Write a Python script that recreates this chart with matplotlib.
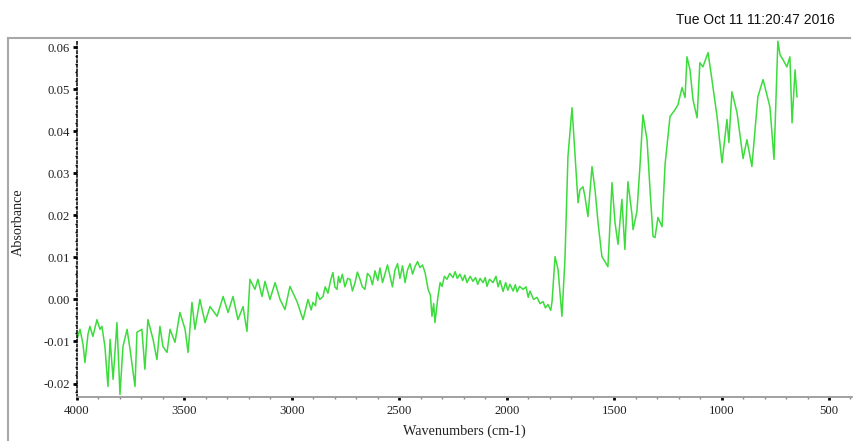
import matplotlib
matplotlib.use("Agg")
import matplotlib.pyplot as plt
from matplotlib.lines import Line2D
from matplotlib.ticker import MultipleLocator, FixedLocator

# IR absorbance spectrum (wavenumber in cm-1, absorbance)
wavenumbers = [
    4000, 3986, 3972, 3963, 3949, 3940, 3926, 3907, 3893, 3884, 3870, 3856, 3846,
    3832, 3814, 3800, 3786, 3767, 3753, 3730, 3721, 3698, 3684, 3670, 3646, 3628,
    3614, 3600, 3581, 3567, 3544, 3521, 3497, 3483, 3465, 3451, 3428, 3404, 3381,
    3348, 3320, 3297, 3274, 3251, 3227, 3209, 3195, 3172, 3158, 3139, 3125, 3102,
    3078, 3055, 3032, 3009, 2976, 2948, 2925,
    2910, 2902, 2890, 2883, 2870, 2855, 2845, 2832, 2820, 2809, 2800, 2790, 2783,
    2776, 2765, 2753, 2740, 2729, 2718, 2706, 2695, 2683, 2672, 2660, 2648, 2636,
    2625, 2613, 2600, 2590, 2578, 2567, 2555, 2543, 2532, 2520, 2508, 2497, 2485,
    2473, 2462, 2450, 2438, 2427, 2415, 2404, 2392, 2380, 2366, 2355, 2348, 2340,
    2334, 2320, 2310, 2301, 2290, 2278, 2265, 2250, 2240, 2230, 2218, 2205, 2195,
    2185, 2170, 2157, 2145, 2135, 2124, 2110, 2100, 2092, 2080, 2064, 2050, 2040,
    2031, 2017, 2005, 1995, 1985, 1970, 1960, 1952, 1940, 1924, 1910, 1900, 1892,
    1875, 1859, 1845, 1831, 1820, 1808, 1795,
    1789, 1775, 1761, 1743, 1729, 1715, 1696, 1682, 1668, 1659, 1645, 1636, 1622,
    1603, 1589, 1575, 1557, 1543, 1529, 1510, 1496, 1482, 1464, 1450, 1436, 1417,
    1412, 1394, 1380, 1366, 1347, 1333, 1319, 1310, 1296, 1277, 1263, 1240, 1217,
    1203, 1184, 1170, 1161, 1147, 1133, 1114, 1101, 1087, 1063, 1045, 1021, 998,
    975, 966, 952, 928, 900, 882, 859, 831, 807, 775, 756, 738, 728, 714, 696,
    682, 672, 658, 649,
]
absorbance = [
    -0.0095, -0.0071, -0.0107, -0.0150, -0.0083, -0.0064, -0.0088, -0.0048, -0.0071,
    -0.0064, -0.0112, -0.0207, -0.0095, -0.0190, -0.0055, -0.0226, -0.0112, -0.0071,
    -0.0119, -0.0207, -0.0078, -0.0071, -0.0166, -0.0048, -0.0095, -0.0143, -0.0064,
    -0.0112, -0.0126, -0.0071, -0.0102, -0.0031, -0.0071, -0.0126, -0.0007, -0.0071,
    0.0000, -0.0055, -0.0017, -0.0040, 0.0007, -0.0031, 0.0007, -0.0048, -0.0017,
    -0.0076, 0.0048, 0.0024, 0.0048, 0.0007, 0.0043, 0.0000, 0.0040, 0.0000,
    -0.0024, 0.0031, -0.0005, -0.0048, 0.0000,
    -0.0025, -0.0007, -0.0015, 0.0017, 0.0000, 0.0007, 0.0030, 0.0015, 0.0045,
    0.0064, 0.0030, 0.0024, 0.0055, 0.0040, 0.0060, 0.0030, 0.0050, 0.0048,
    0.0020, 0.0040, 0.0065, 0.0048, 0.0030, 0.0024, 0.0062, 0.0055, 0.0035,
    0.0068, 0.0045, 0.0075, 0.0040, 0.0060, 0.0082, 0.0055, 0.0030, 0.0070,
    0.0085, 0.0050, 0.0080, 0.0040, 0.0070, 0.0085, 0.0060, 0.0078, 0.0090,
    0.0076, 0.0082, 0.0064, 0.0024, 0.0010, -0.0040, -0.0010, -0.0055, 0.0007,
    0.0040, 0.0031, 0.0055, 0.0048, 0.0062, 0.0052, 0.0066, 0.0050, 0.0060,
    0.0045, 0.0058, 0.0040, 0.0055, 0.0043, 0.0052, 0.0036, 0.0050, 0.0040,
    0.0052, 0.0031, 0.0048, 0.0040, 0.0055, 0.0030, 0.0045, 0.0019, 0.0040,
    0.0022, 0.0036, 0.0020, 0.0035, 0.0018, 0.0031, 0.0024, 0.0030, 0.0005,
    0.0020, 0.0000, 0.0005, -0.0010, -0.0005, -0.0020, -0.0012, -0.0026,
    -0.0005, 0.0102, 0.0071, -0.0040, 0.0095, 0.0340, 0.0456, 0.0344, 0.0230,
    0.0261, 0.0268, 0.0245, 0.0197, 0.0316, 0.0261, 0.0183, 0.0102, 0.0090,
    0.0078, 0.0278, 0.0183, 0.0131, 0.0238, 0.0119, 0.0280, 0.0202, 0.0166,
    0.0209, 0.0316, 0.0439, 0.0380, 0.0261, 0.0150, 0.0147, 0.0195, 0.0173,
    0.0321, 0.0435, 0.0451, 0.0463, 0.0504, 0.0480, 0.0577, 0.0546, 0.0475,
    0.0432, 0.0563, 0.0553, 0.0587, 0.0523, 0.0435, 0.0325, 0.0428, 0.0373,
    0.0494, 0.0444, 0.0335, 0.0380, 0.0316, 0.0482, 0.0523, 0.0458, 0.0333,
    0.0614, 0.0582, 0.0570, 0.0553, 0.0577, 0.0420, 0.0546, 0.0482,
]

x_major = [4000, 3500, 3000, 2500, 2000, 1500, 1000, 500]
y_major = [-0.02, -0.01, 0.00, 0.01, 0.02, 0.03, 0.04, 0.05, 0.06]
timestamp = "Tue Oct 11 11:20:47 2016"

W, H = 861, 441
fig = plt.figure(figsize=(W / 100, H / 100), dpi=100)
fig.patch.set_facecolor("white")

left, right, top, bottom = 77, 852, 40, 397
ax = fig.add_axes([left / W, 1 - bottom / H, (right - left) / W, (bottom - top) / H])

ax.plot(wavenumbers, absorbance, color="#3cdc3c", lw=1.1, solid_joinstyle="round")

ax.set_xlim(4000, 393)
ax.set_ylim(-0.0232, 0.0617)

serif = "Liberation Serif"
ax.xaxis.set_major_locator(FixedLocator(x_major))
ax.xaxis.set_minor_locator(MultipleLocator(100))
ax.yaxis.set_major_locator(FixedLocator(y_major))
ax.yaxis.set_minor_locator(MultipleLocator(0.002))
ax.set_xticklabels([str(v) for v in x_major], fontfamily=serif, fontsize=9.2, color="#222222")
ax.set_yticklabels([f"{v:.2f}" for v in y_major], fontfamily=serif, fontsize=9.2, color="#222222")

for s in ("top", "right"):
    ax.spines[s].set_visible(False)
ax.spines["left"].set_linestyle((0, (1.5, 1.5)))
ax.spines["left"].set_color("black")
ax.spines["left"].set_linewidth(1.1)
ax.spines["bottom"].set_color("#9a9a9a")
ax.spines["bottom"].set_linewidth(1.3)

ax.tick_params(axis="y", which="major", length=3, width=2, color="black", pad=2)
ax.tick_params(axis="y", which="minor", length=1.5, width=1, color="black")
ax.tick_params(axis="x", which="major", length=2.5, width=2, color="black", pad=3)
ax.tick_params(axis="x", which="minor", length=1.5, width=1, color="#888888")

ax.set_xlabel("Wavenumbers (cm-1)", fontfamily=serif, fontsize=10.2, color="#222222", labelpad=6)
fig.text(18 / W, 1 - 222 / H, "Absorbance", rotation=90, fontfamily=serif, fontsize=10.2,
         color="#222222", ha="center", va="center")

# outer frame (left and top edges)
fig.add_artist(Line2D([8 / W, 8 / W], [0, 1 - 38 / H], color="#a8a8a8", lw=1.5,
                      transform=fig.transFigure))
fig.add_artist(Line2D([8 / W, 850 / W], [1 - 38 / H, 1 - 38 / H], color="#a8a8a8", lw=1.5,
                      transform=fig.transFigure))

fig.text(676 / W, 1 - 20 / H, timestamp, fontfamily="Liberation Sans", fontsize=10,
         color="#111111", ha="left", va="center")

fig.savefig("out.png", dpi=100, facecolor="white")
